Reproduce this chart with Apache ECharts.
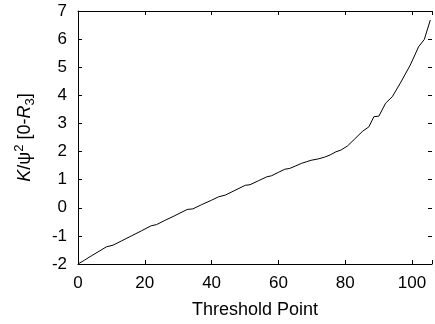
<!DOCTYPE html>
<html>
<head>
<meta charset="utf-8">
<script src="https://cdn.jsdelivr.net/npm/echarts@6/dist/echarts.min.js"></script>
<style>
  html, body { margin: 0; padding: 0; background: #fff; }
  #main { width: 435px; height: 324px; }
</style>
</head>
<body>
<div id="main"></div>
<script>
// threshold point (x) and K/psi^2 value (y)
var xValues = [0, 2, 4, 6, 8.5, 10.5, 13, 16, 19, 21.9, 23.5, 26, 29, 32.7, 34.4, 37, 40, 42.1, 44.1, 47,
  50.1, 51.5, 54, 56.5, 58, 60, 61.9, 63.4, 65, 66.9, 68.5, 69.8, 72, 73.8, 75.5, 77.2, 78.7, 80.7, 82.7,
  85.2, 87.1, 88.6, 90.1, 92.1, 94.1, 96.5, 99.5, 102, 103.7, 105.5]
var yValues = [-2.0, -1.86, -1.71, -1.57, -1.39, -1.33, -1.18, -1.0, -0.82, -0.64, -0.60, -0.45, -0.28, -0.06,
  -0.04, 0.11, 0.27, 0.39, 0.45, 0.62, 0.80, 0.82, 0.96, 1.10, 1.14, 1.26, 1.37, 1.40, 1.48, 1.58, 1.64, 1.69,
  1.74, 1.80, 1.88, 1.99, 2.05, 2.20, 2.43, 2.72, 2.88, 3.24, 3.26, 3.72, 3.95, 4.43, 5.08, 5.73, 5.99, 6.68]
var xTicks = [0, 20, 40, 60, 80, 100]
var yTicks = [-2, -1, 0, 1, 2, 3, 4, 5, 6, 7]

var font = 'Liberation Sans, Arial, sans-serif'
var chartObj = echarts.init(document.getElementById('main'))

var points = []
for (var i = 0; i < xValues.length; i++) {
  points.push([xValues[i], yValues[i]])
}

var tickStyle = { show: true, inside: true, length: 4, lineStyle: { color: '#000', width: 1 } }

var option = {
  animation: false,
  grid: { left: 78, top: 11, right: 0, bottom: 60 },
  xAxis: [
    {
      type: 'value',
      min: 0,
      max: 106,
      interval: 20,
      name: 'Threshold Point',
      nameLocation: 'middle',
      nameGap: 37,
      nameTextStyle: { color: '#000', fontSize: 18, fontFamily: font },
      axisLine: { onZero: false, lineStyle: { color: '#000', width: 1 } },
      axisTick: tickStyle,
      axisLabel: {
        color: '#000',
        fontSize: 17,
        fontFamily: font,
        margin: 11,
        formatter: function (v) { return xTicks.indexOf(v) >= 0 ? v : '' }
      },
      splitLine: { show: false }
    },
    {
      type: 'value',
      position: 'top',
      min: 0,
      max: 106,
      interval: 20,
      axisLine: { show: true, onZero: false, lineStyle: { color: '#000', width: 1 } },
      axisTick: tickStyle,
      axisLabel: { show: false },
      splitLine: { show: false }
    }
  ],
  yAxis: [
    {
      type: 'value',
      min: -2,
      max: 7,
      interval: 1,
      name: '{i|K}/ψ{sup|2} [0-{i|R}{sub|3}]',
      nameLocation: 'middle',
      nameGap: 41,
      nameTextStyle: {
        color: '#000',
        fontSize: 18,
        fontFamily: font,
        lineHeight: 24,
        rich: {
          i: { fontStyle: 'italic', fontSize: 18, fontFamily: font, color: '#000', lineHeight: 24 },
          sup: { fontSize: 13, fontFamily: font, color: '#000', verticalAlign: 'top', lineHeight: 14 },
          sub: { fontSize: 13, fontFamily: font, color: '#000', verticalAlign: 'bottom', lineHeight: 14 }
        }
      },
      axisLine: { show: true, onZero: false, lineStyle: { color: '#000', width: 1 } },
      axisTick: tickStyle,
      axisLabel: {
        color: '#000',
        fontSize: 17,
        fontFamily: font,
        margin: 11,
        formatter: function (v) { return yTicks.indexOf(v) >= 0 ? v : '' }
      },
      splitLine: { show: false }
    },
    {
      type: 'value',
      position: 'right',
      min: -2,
      max: 7,
      interval: 1,
      axisLine: { show: false, onZero: false },
      axisTick: tickStyle,
      axisLabel: { show: false },
      splitLine: { show: false }
    }
  ],
  series: [
    {
      type: 'line',
      data: points,
      showSymbol: false,
      smooth: false,
      lineStyle: { color: '#000', width: 1 }
    }
  ]
}

chartObj.setOption(option, true)
</script>
</body>
</html>
